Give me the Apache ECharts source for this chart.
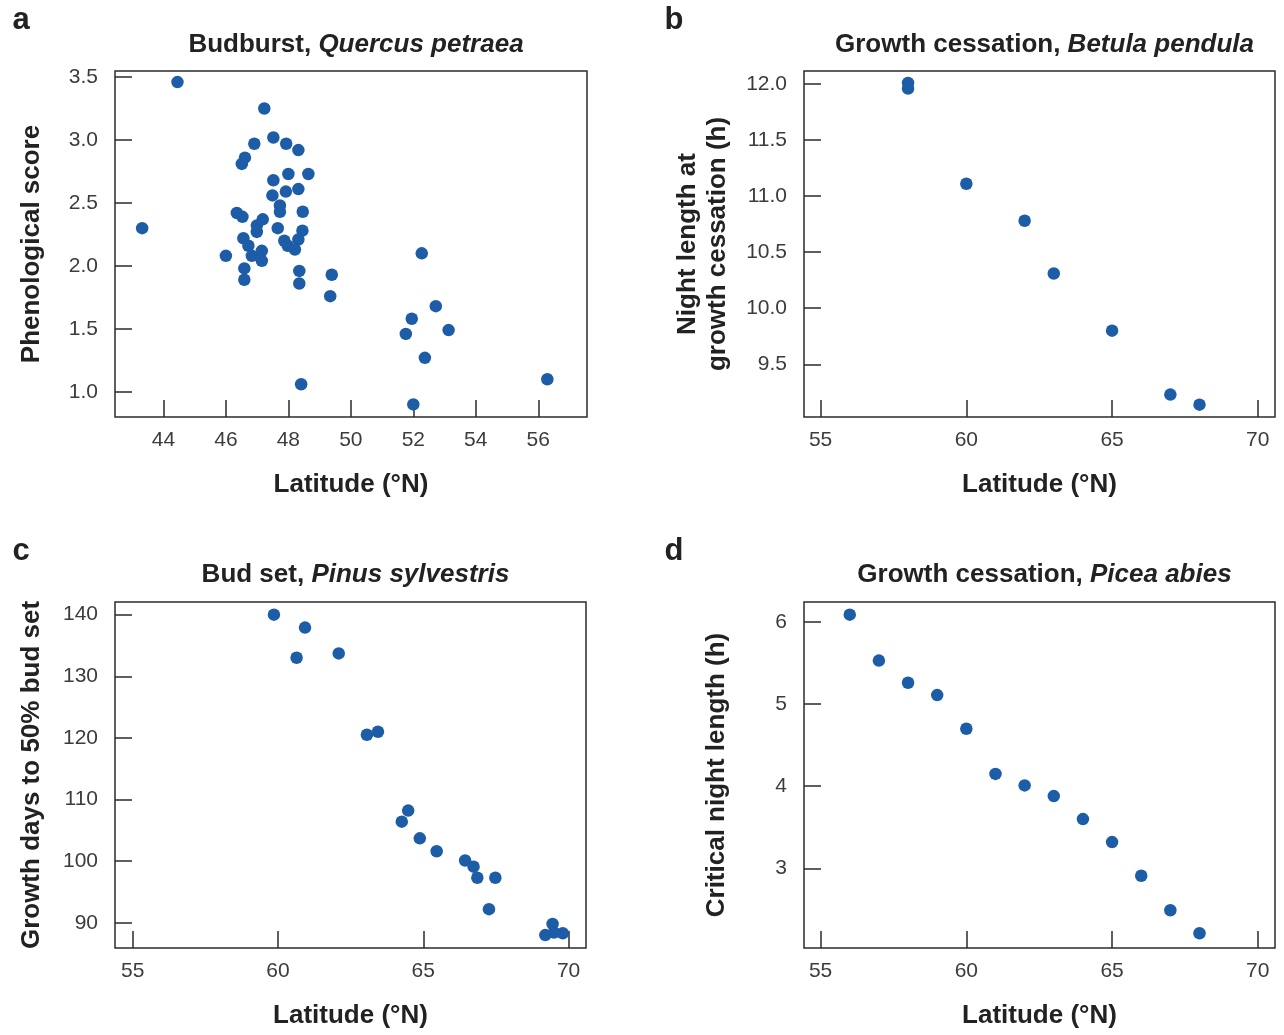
<!DOCTYPE html>
<html><head><meta charset="utf-8">
<script src="https://cdn.jsdelivr.net/npm/echarts@6/dist/echarts.min.js"></script>
<style>html,body{margin:0;padding:0;background:#fff}#c{width:1284px;height:1035px}</style>
</head><body><div id="c"></div>
<script>
// Panel a: Budburst, Quercus petraea  [latitude, phenological score]
const quercusData = [
  [44.45,3.46],[43.32,2.30],[47.23,3.25],[47.52,3.02],[46.91,2.97],[47.93,2.97],[48.32,2.92],
  [46.61,2.86],[46.51,2.81],[48.0,2.73],[48.64,2.73],[47.52,2.68],[47.92,2.59],[48.32,2.61],
  [47.49,2.56],[47.73,2.48],[47.73,2.43],[48.46,2.43],[46.35,2.42],[46.53,2.39],[47.18,2.37],
  [46.99,2.32],[46.99,2.27],[47.66,2.30],[48.45,2.28],[46.56,2.22],[47.87,2.20],[48.32,2.21],
  [47.98,2.16],[48.21,2.13],[46.72,2.16],[46.83,2.08],[47.15,2.12],[47.15,2.04],[46.0,2.08],
  [46.59,1.98],[46.59,1.89],[48.35,1.96],[48.35,1.86],[49.39,1.93],[49.34,1.76],[48.41,1.06],
  [52.27,2.10],[52.72,1.68],[51.95,1.58],[53.13,1.49],[51.76,1.46],[52.37,1.27],[52.0,0.90],
  [56.29,1.10]
];
// Panel b: Growth cessation, Betula pendula  [latitude, night length (h)]
const betulaData = [[58,12.01],[58,11.96],[60,11.11],[62,10.78],[63,10.31],[65,9.80],[67,9.23],[68,9.14]];
// Panel c: Bud set, Pinus sylvestris  [latitude, growth days]
const pinusData = [
  [59.86,140.0],[60.93,137.9],[60.64,133.0],[62.09,133.7],[63.06,120.5],[63.44,121.0],
  [64.48,108.2],[64.26,106.4],[64.88,103.7],[65.46,101.6],[66.44,100.1],[66.73,99.1],
  [66.86,97.3],[67.48,97.3],[67.26,92.2],[69.2,88.0],[69.45,89.8],[69.5,88.4],[69.8,88.3]
];
// Panel d: Growth cessation, Picea abies  [latitude, critical night length (h)]
const piceaData = [
  [56,6.09],[57,5.53],[58,5.26],[59,5.11],[60,4.70],[61,4.15],[62,4.01],[63,3.88],
  [64,3.60],[65,3.32],[66,2.91],[67,2.49],[68,2.21]
];

const ticksAx = [44,46,48,50,52,54,56];
const ticksAy = [1.0,1.5,2.0,2.5,3.0,3.5];
const ticksBx = [55,60,65,70];
const ticksBy = [9.5,10.0,10.5,11.0,11.5,12.0];
const ticksCx = [55,60,65,70];
const ticksCy = [90,100,110,120,130,140];
const ticksDx = [55,60,65,70];
const ticksDy = [3,4,5,6];

const titlesMain = ['Budburst, ','Growth cessation, ','Bud set, ','Growth cessation, '];
const titlesItalic = ['Quercus petraea','Betula pendula','Pinus sylvestris','Picea abies'];
const panelLetters = ['a','b','c','d'];
const xNames = ['Latitude (°N)','Latitude (°N)','Latitude (°N)','Latitude (°N)'];
const yNames = ['Phenological score','Night length at\ngrowth cessation (h)','Growth days to 50% bud set','Critical night length (h)'];

const FONT = "'Liberation Sans', Arial, sans-serif";
const DOT = '#1d5ca7';

const grids = [
  {left:115, top:71, width:472, height:346},
  {left:804, top:71, width:471, height:346},
  {left:115, top:602, width:471, height:346},
  {left:804, top:602, width:471, height:346}
];
const xRanges = [[42.45,57.56],[54.43,70.59],[54.39,70.6],[54.43,70.59]];
const yRanges = [[0.8,3.548],[9.03,12.116],[85.9,142.05],[2.03,6.244]];
const xTicks = [ticksAx,ticksBx,ticksCx,ticksDx];
const yTicks = [ticksAy,ticksBy,ticksCy,ticksDy];
const yFmt = [v=>v.toFixed(1), v=>v.toFixed(1), v=>String(v), v=>String(v)];
const yGaps = [68, 71, 68, 72];
const datasets = [quercusData, betulaData, pinusData, piceaData];

const titleRows = [43, 43, 573, 573];
const letterPos = [[16,18],[669,18],[16,549],[669,549]];

const option = {
  backgroundColor:'#fff',
  animation:false,
  title: [],
  grid: grids.map(g => Object.assign({show:true, borderColor:'#2b2b2b', borderWidth:1.5, backgroundColor:'transparent'}, g)),
  xAxis: [], yAxis: [], series: []
};

for (let i=0;i<4;i++){
  const g = grids[i];
  option.title.push({
    text: '{n|'+titlesMain[i]+'}{it|'+titlesItalic[i]+'}',
    left: g.left + g.width/2, top: titleRows[i]-16, textAlign:'center',
    textStyle: { rich: {
      n:{fontFamily:FONT, fontSize:26, fontWeight:'bold', color:'#222'},
      it:{fontFamily:FONT, fontSize:26, fontWeight:'bold', fontStyle:'italic', color:'#222'}
    }}
  });
  option.title.push({
    text: panelLetters[i], left: letterPos[i][0], top: letterPos[i][1]-18, textAlign:'center',
    textStyle:{fontFamily:FONT, fontSize:31, fontWeight:'bold', color:'#222'}
  });
  option.xAxis.push({
    type:'value', gridIndex:i, min:xRanges[i][0], max:xRanges[i][1],
    name:xNames[i], nameLocation:'middle', nameGap:55,
    nameTextStyle:{fontFamily:FONT, fontSize:26, fontWeight:'bold', color:'#222'},
    axisLine:{show:false}, splitLine:{show:false},
    axisTick:{show:true, inside:true, length:17, lineStyle:{color:'#2b2b2b', width:1.5}, customValues:xTicks[i]},
    axisLabel:{show:true, margin:13, fontFamily:FONT, fontSize:21, color:'#3c3c3c', customValues:xTicks[i], formatter:v=>String(v)}
  });
  option.yAxis.push({
    type:'value', gridIndex:i, min:yRanges[i][0], max:yRanges[i][1],
    name:yNames[i], nameLocation:'middle', nameGap:yGaps[i], nameRotate:90,
    nameTextStyle:{fontFamily:FONT, fontSize:26, fontWeight:'bold', color:'#222', lineHeight:30},
    axisLine:{show:false}, splitLine:{show:false},
    axisTick:{show:true, inside:true, length:17, lineStyle:{color:'#2b2b2b', width:1.5}, customValues:yTicks[i]},
    axisLabel:{show:true, margin:17, fontFamily:FONT, fontSize:21, color:'#3c3c3c', customValues:yTicks[i], formatter:yFmt[i]}
  });
  option.series.push({
    type:'scatter', xAxisIndex:i, yAxisIndex:i, data:datasets[i],
    symbol:'circle', symbolSize:12.5, itemStyle:{color:DOT, opacity:1}
  });
}

const chart = echarts.init(document.getElementById('c'), null, {renderer:'canvas'});
chart.setOption(option);
</script></body></html>
